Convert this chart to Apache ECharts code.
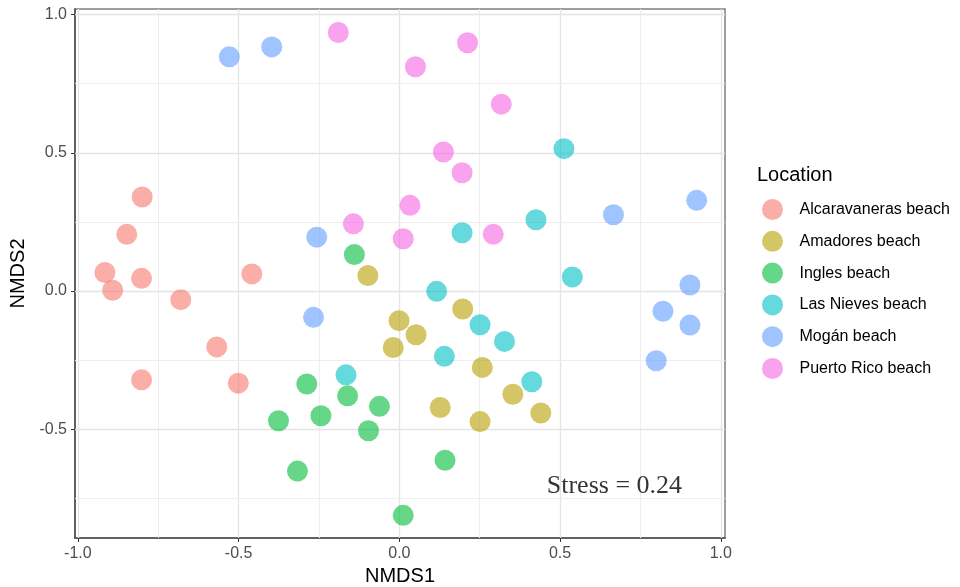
<!DOCTYPE html>
<html><head><meta charset="utf-8">
<script src="https://cdn.jsdelivr.net/npm/echarts@6/dist/echarts.min.js"></script>
<style>html,body{margin:0;padding:0;background:#fff}#c{width:960px;height:587px}</style>
</head><body><div id="c"></div>
<script>
// ---- data ----
const locations = ['Alcaravaneras beach','Amadores beach','Ingles beach','Las Nieves beach','Mogán beach','Puerto Rico beach'];
const colors = ['#F8766D','#B79F00','#00BA38','#00BFC4','#619CFF','#F564E3'];
const alcaravaneras = [[-0.800,0.340],[-0.848,0.205],[-0.916,0.067],[-0.892,0.003],[-0.802,0.046],[-0.680,-0.031],[-0.459,0.062],[-0.568,-0.202],[-0.802,-0.321],[-0.501,-0.333]];
const amadores = [[-0.098,0.056],[-0.001,-0.107],[0.052,-0.158],[-0.019,-0.204],[0.197,-0.065],[0.258,-0.276],[0.353,-0.373],[0.440,-0.441],[0.127,-0.421],[0.251,-0.472]];
const ingles = [[-0.140,0.132],[-0.288,-0.336],[-0.161,-0.379],[-0.062,-0.417],[-0.244,-0.451],[-0.096,-0.505],[-0.376,-0.469],[-0.317,-0.651],[0.142,-0.612],[0.012,-0.811]];
const lasNieves = [[0.512,0.515],[0.425,0.258],[0.538,0.051],[0.195,0.211],[0.116,-0.001],[0.251,-0.122],[0.327,-0.182],[0.140,-0.236],[0.412,-0.328],[-0.166,-0.303]];
const mogan = [[-0.529,0.847],[-0.397,0.883],[-0.257,0.195],[-0.267,-0.095],[0.666,0.276],[0.925,0.328],[0.904,0.022],[0.820,-0.073],[0.904,-0.123],[0.799,-0.252]];
const puertoRico = [[-0.190,0.935],[0.212,0.898],[0.050,0.811],[0.317,0.676],[0.137,0.503],[0.195,0.428],[0.033,0.310],[-0.143,0.243],[0.012,0.189],[0.292,0.205]];
const seriesData = [alcaravaneras, amadores, ingles, lasNieves, mogan, puertoRico];
const xTicks = [-1.0,-0.5,0.0,0.5,1.0];
const yTicks = [-0.5,0.0,0.5,1.0];
const xMinor = [-0.75,-0.25,0.25,0.75];
const yMinor = [-0.75,-0.25,0.25,0.75];
const xRange = [-1.009, 1.013];
const yRange = [-0.893, 1.02];
const stressText = 'Stress = 0.24';
const stressPos = [0.669, -0.705];

// ---- chart ----
const FONT = 'Liberation Sans, Arial, Helvetica, sans-serif';
const chart = echarts.init(document.getElementById('c'), null, {renderer:'canvas'});
const major = {color:'#e4e4e4', width:1.3, type:'solid'};
const minor = {color:'#eeeeee', width:1, type:'solid'};
const gridLines = []
  .concat(xTicks.map(v=>({xAxis:v, lineStyle:major})))
  .concat(xMinor.map(v=>({xAxis:v, lineStyle:minor})))
  .concat(yTicks.map(v=>({yAxis:v, lineStyle:major})))
  .concat(yMinor.map(v=>({yAxis:v, lineStyle:minor})));

const series = [{
  type:'scatter', name:'_grid', data:[], z:1, silent:true,
  markLine:{silent:true, z:1, symbol:['none','none'], label:{show:false}, animation:false, data:gridLines}
}];
locations.forEach((n,i)=>{
  series.push({type:'scatter', name:n, data:seriesData[i], symbol:'circle', symbolSize:21, z:3,
    itemStyle:{color:colors[i], opacity:0.6}});
});
series.push({type:'scatter', name:'_stress', data:[stressPos], symbolSize:1, z:4, silent:true,
  itemStyle:{color:'transparent'},
  label:{show:true, position:'inside', formatter:stressText, fontFamily:'Liberation Serif, Times New Roman, serif', fontSize:26, color:'#000'}});

chart.setOption({
  animation:false,
  backgroundColor:'#fff',
  grid:{left:75, right:235, top:9, bottom:49, show:true, borderColor:'#7f7f7f', borderWidth:1.5, containLabel:false, outerBoundsMode:'none'},
  title:{text:'Location', left:757, top:165, padding:0, textStyle:{fontFamily:FONT, fontSize:20, fontWeight:'normal', color:'#000'}},
  legend:{data:locations, orient:'vertical', left:762, top:199, padding:0, itemWidth:44, itemHeight:21, itemGap:10.8, icon:'circle',
    textStyle:{fontFamily:FONT, fontSize:16, color:'#000'}},
  xAxis:{type:'value', min:xRange[0], max:xRange[1], name:'NMDS1', nameLocation:'middle', nameGap:28,
    nameTextStyle:{fontFamily:FONT, fontSize:20, color:'#000'},
    axisLine:{show:true, onZero:false, lineStyle:{color:'#4d4d4d', width:1.5}},
    axisTick:{show:true, length:4, customValues:xTicks, lineStyle:{color:'#333'}},
    axisLabel:{customValues:xTicks, formatter:v=>v.toFixed(1), fontFamily:FONT, fontSize:16, color:'#4d4d4d', margin:8},
    splitLine:{show:false}},
  yAxis:{type:'value', min:yRange[0], max:yRange[1], name:'NMDS2', nameLocation:'middle', nameGap:45,
    nameTextStyle:{fontFamily:FONT, fontSize:20, color:'#000'},
    axisLine:{show:true, onZero:false, lineStyle:{color:'#4d4d4d', width:1.5}},
    axisTick:{show:true, length:4, customValues:yTicks, lineStyle:{color:'#333'}},
    axisLabel:{customValues:yTicks, formatter:v=>v.toFixed(1), fontFamily:FONT, fontSize:16, color:'#4d4d4d', margin:8},
    splitLine:{show:false}},
  series:series
});
</script></body></html>
